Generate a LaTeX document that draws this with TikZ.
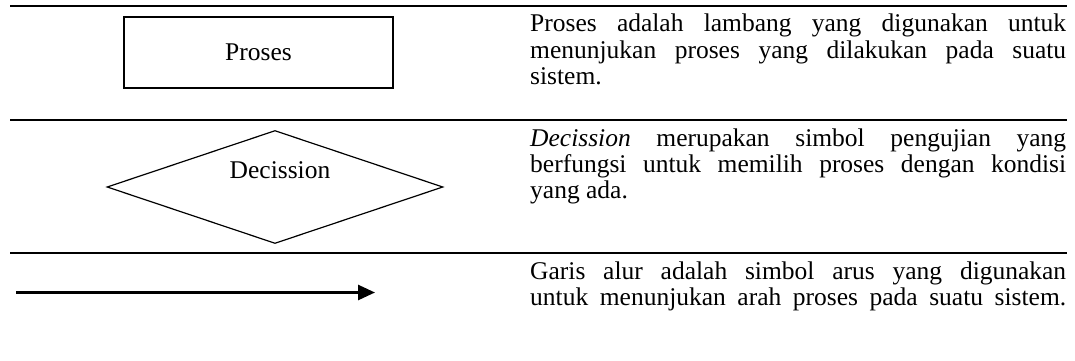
\documentclass[tikz,border=0pt]{standalone}
\usepackage{fontspec}
\setmainfont{Liberation Serif}
\usetikzlibrary{shapes.geometric,arrows.meta}

\begin{document}
\begin{tikzpicture}[x=1pt,y=-1pt,
    rule/.style={line width=2pt},
    sym/.style={draw,line width=1.2pt,inner sep=0pt},
    desc/.style={anchor=base west,inner sep=0pt,text width=536pt,align=justify},
    every node/.style={font=\fontsize{25.5}{26.4}\selectfont}]
  \useasboundingbox (0,0) rectangle (1075,361);
  \draw [rule] (10,5.7) -- (1067,5.7);
  \draw [rule] (10,119.5) -- (1067,119.5);
  \draw [rule] (10,253) -- (1067,253);
  \node [sym,minimum width=269pt,minimum height=71pt] (proses) at (258.5,52.5) {Proses};
  \node [sym,diamond,minimum width=336pt,minimum height=113pt] (decision) at (275,187) {};
  \node (decisionlabel) at (280,170) {Decission};
  \coordinate (flowstart) at (16,292.5);
  \coordinate (flowend) at (375,292.5);
  \draw [line width=2.7pt,-{Triangle[length=17pt,width=15pt]}] (flowstart) -- (flowend);
  \node [desc] (prosesdesc) at (530,32) {Proses adalah lambang yang digunakan untuk\linebreak menunjukan proses yang dilakukan pada suatu\linebreak sistem.};
  \node [desc] (decisiondesc) at (530,146) {\textit{Decission} merupakan simbol pengujian yang\linebreak berfungsi untuk memilih proses dengan kondisi\linebreak yang ada.};
  \node [desc] (flowdesc) at (530,279) {{\parfillskip=0pt Garis alur adalah simbol arus yang digunakan\linebreak untuk menunjukan arah proses pada suatu sistem.\par}};
\end{tikzpicture}
\end{document}
